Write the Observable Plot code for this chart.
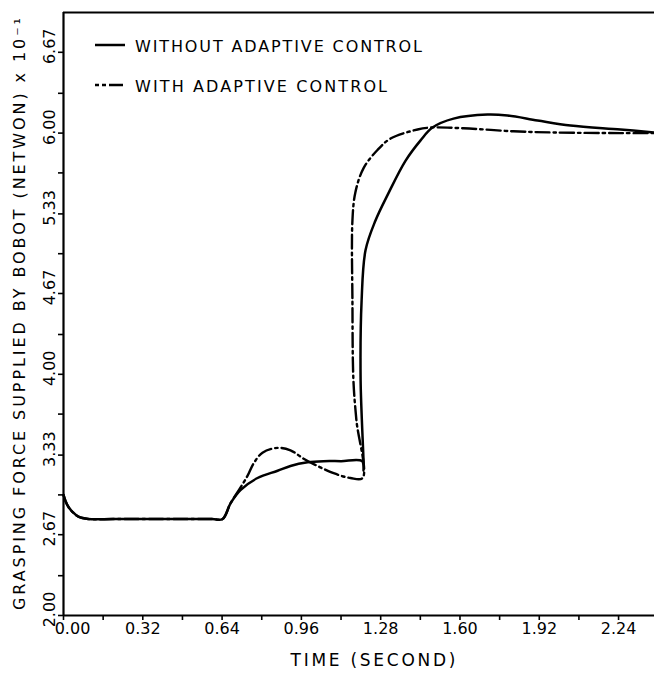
<!DOCTYPE html>
<html>
<head>
<meta charset="utf-8">
<script src="https://cdn.jsdelivr.net/npm/d3@7"></script>
<script src="https://cdn.jsdelivr.net/npm/@observablehq/plot@0.6"></script>
<style>
  html, body { margin: 0; padding: 0; background: #fff; overflow: hidden; }
  #wrap { position: relative; width: 654px; height: 679px; }
  .leg { position: absolute; left: 0; top: 0; }
  .leg text { font-family: "DejaVu Sans", sans-serif; font-size: 16px; fill: #000; }
</style>
</head>
<body>
<div id="wrap"></div>
<script>
// ---- data ----
const withoutT = [0, 0.008, 0.02, 0.036, 0.06, 0.1, 0.2, 0.3, 0.4, 0.5, 0.6, 0.642, 0.674, 0.714, 0.783, 0.864, 0.916, 0.985, 1.049, 1.120, 1.205,
  1.211, 1.199, 1.203, 1.219, 1.259, 1.311, 1.380, 1.441, 1.489, 1.574, 1.711, 1.792, 1.913, 2.046, 2.248, 2.385];
const withoutV = [3.00, 2.95, 2.90, 2.86, 2.82, 2.80, 2.80, 2.80, 2.80, 2.80, 2.80, 2.80, 2.93, 3.04, 3.14, 3.20, 3.24, 3.27, 3.28, 3.28, 3.28,
  3.20, 3.95, 4.61, 5.03, 5.275, 5.50, 5.77, 5.94, 6.046, 6.12, 6.154, 6.146, 6.105, 6.063, 6.03, 6.005];

const withT = [0, 0.008, 0.02, 0.036, 0.06, 0.1, 0.2, 0.3, 0.4, 0.5, 0.6, 0.642, 0.674, 0.714, 0.743, 0.767, 0.803, 0.864, 0.916, 0.969, 1.025, 1.090, 1.158, 1.207,
  1.182, 1.170, 1.166, 1.166, 1.178, 1.211, 1.267, 1.320, 1.429, 1.481, 1.614, 1.816, 1.977, 2.248, 2.385];
const withV = [3.00, 2.95, 2.90, 2.86, 2.82, 2.80, 2.80, 2.80, 2.80, 2.80, 2.80, 2.80, 2.93, 3.06, 3.16, 3.26, 3.35, 3.39, 3.37, 3.30, 3.24, 3.18, 3.14, 3.14,
  3.62, 3.95, 4.61, 5.275, 5.51, 5.71, 5.86, 5.955, 6.03, 6.046, 6.04, 6.015, 6.005, 6.0, 6.0];

const xTicks = [0.00, 0.32, 0.64, 0.96, 1.28, 1.60, 1.92, 2.24];
const xMinor = [0.16, 0.48, 0.80, 1.12, 1.44, 1.76, 2.08];
const yTicks = [2.00, 2.67, 3.33, 4.00, 4.67, 5.33, 6.00, 6.67];
const yMinor = [2.33, 3.00, 3.67, 4.33, 5.00, 5.67, 6.33];
const seriesNames = ["WITHOUT ADAPTIVE CONTROL", "WITH ADAPTIVE CONTROL"];
const yTitle = "GRASPING FORCE SUPPLIED BY BOBOT (NETWON) x 10\u207B\u00B9";
const xTitle = "TIME (SECOND)";

const withoutData = withoutT.map((t, i) => ({t, v: withoutV[i]}));
const withData = withT.map((t, i) => ({t, v: withV[i]}));

const font = "DejaVu Sans, sans-serif";

const plot = Plot.plot({
  width: 654,
  height: 679,
  marginLeft: 63,
  marginRight: 0,
  marginTop: 12,
  marginBottom: 64,
  style: {fontFamily: font, background: "#fff", color: "#000"},
  x: {domain: [0, 2.385], axis: null},
  y: {domain: [2, 7], axis: null},
  marks: [
    Plot.axisX([...xTicks, ...xMinor], {tickSize: 5, tickFormat: () => "", strokeWidth: 1.6, label: null}),
    Plot.axisY([...yTicks, ...yMinor], {tickSize: 5, tickFormat: () => "", strokeWidth: 1.6, label: null}),
    Plot.ruleX([0], {strokeWidth: 2.2}),
    Plot.ruleY([2], {strokeWidth: 2.2}),
    Plot.ruleY([7], {strokeWidth: 2.2}),
    Plot.text(xTicks.slice(1), {x: d => d, frameAnchor: "bottom", dy: 18, text: d => d.toFixed(2), fontSize: 16, fill: "#000"}),
    Plot.text(xTicks.slice(0, 1), {x: d => d, frameAnchor: "bottom", dy: 18, dx: 9, text: d => d.toFixed(2), fontSize: 16, fill: "#000"}),
    Plot.text(yTicks, {y: d => d, frameAnchor: "left", textAnchor: "middle", dx: -14, dy: -6, rotate: -90, text: d => d.toFixed(2), fontSize: 16, fill: "#000"}),
    Plot.text([xTitle], {frameAnchor: "bottom", dx: 14, dy: 50, fontSize: 17, fill: "#000"}),
    Plot.text([yTitle], {frameAnchor: "left", textAnchor: "middle", dx: -44, dy: 0, rotate: -90, fontSize: 16, fill: "#000"}),
    Plot.line(withData, {x: "t", y: "v", curve: "catmull-rom", stroke: "#000", strokeWidth: 2.4, strokeDasharray: "14,4,2.5,4"}),
    Plot.line(withoutData, {x: "t", y: "v", curve: "catmull-rom", stroke: "#000", strokeWidth: 2.5})
  ]
});

const wrap = document.getElementById("wrap");
wrap.appendChild(plot);

// fit title widths to the reference spans
plot.querySelectorAll("text").forEach(t => {
  if (t.textContent.startsWith("GRASPING")) { t.setAttribute("textLength", 592); t.setAttribute("lengthAdjust", "spacing"); }
  if (t.textContent.startsWith("TIME")) { t.setAttribute("textLength", 165); t.setAttribute("lengthAdjust", "spacing"); }
});

// legend overlay
const ns = "http://www.w3.org/2000/svg";
const leg = document.createElementNS(ns, "svg");
leg.setAttribute("class", "leg");
leg.setAttribute("width", 654);
leg.setAttribute("height", 120);
const dashes = [null, "4,3,4,3,14"];
const legLen = [287, 252];
seriesNames.forEach((name, i) => {
  const yy = 45 + i * 40;
  const ln = document.createElementNS(ns, "line");
  ln.setAttribute("x1", 95); ln.setAttribute("x2", 125);
  ln.setAttribute("y1", yy); ln.setAttribute("y2", yy);
  ln.setAttribute("stroke", "#000"); ln.setAttribute("stroke-width", 2.5);
  if (dashes[i]) ln.setAttribute("stroke-dasharray", dashes[i]);
  leg.appendChild(ln);
  const tx = document.createElementNS(ns, "text");
  tx.setAttribute("x", 135); tx.setAttribute("y", yy + 7);
  tx.setAttribute("textLength", legLen[i]);
  tx.setAttribute("lengthAdjust", "spacing");
  tx.textContent = name;
  leg.appendChild(tx);
});
wrap.appendChild(leg);
</script>
</body>
</html>
